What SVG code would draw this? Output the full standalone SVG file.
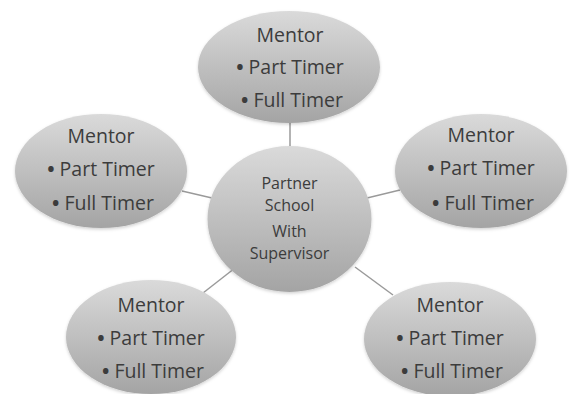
<svg xmlns="http://www.w3.org/2000/svg" width="574" height="394" viewBox="0 0 574 394">
<defs>
<linearGradient id="g" x1="0" y1="0" x2="0" y2="1">
<stop offset="0" stop-color="#dadada"/>
<stop offset="1" stop-color="#a4a4a4"/>
</linearGradient>
<filter id="sh" x="-10%" y="-10%" width="120%" height="125%">
<feDropShadow dx="0" dy="1.5" stdDeviation="1.5" flood-color="#000" flood-opacity="0.18"/>
</filter>
</defs>
<style>
.n{fill:url(#g);filter:url(#sh)}
.t{font-family:"Open Sans","Noto Sans",sans-serif;font-size:19.5px;fill:#3c3c3c;text-anchor:middle}
.c{font-family:"Open Sans","Noto Sans",sans-serif;font-size:16px;fill:#3c3c3c;text-anchor:middle}
.b{font-weight:bold}
.l{stroke:#9a9a9a;stroke-width:1.5;fill:none}
</style>
<rect width="574" height="394" fill="#fff"/>
<g id="connectors">
<line class="l" x1="290" y1="122" x2="290" y2="148"/>
<line class="l" x1="182" y1="191" x2="212" y2="198"/>
<line class="l" x1="367" y1="198" x2="400" y2="190"/>
<line class="l" x1="203" y1="293" x2="235" y2="268"/>
<line class="l" x1="355" y1="267" x2="393" y2="295"/>
</g>
<g id="center">
<ellipse class="n" cx="289.5" cy="219" rx="82" ry="73"/>
<text class="c" x="289.5" y="189">Partner</text>
<text class="c" x="289.5" y="211">School</text>
<text class="c" x="289.5" y="237">With</text>
<text class="c" x="289.5" y="259">Supervisor</text>
</g>
<g id="mentor-top">
<ellipse class="n" cx="289" cy="67" rx="91" ry="56"/>
<text class="t" x="290" y="42">Mentor</text>
<text class="t" x="290" y="74"><tspan class="b">•</tspan> Part Timer</text>
<text class="t" x="292" y="107"><tspan class="b">•</tspan> Full Timer</text>
</g>
<g id="mentor-left">
<ellipse class="n" cx="101" cy="171" rx="86" ry="57"/>
<text class="t" x="101" y="143">Mentor</text>
<text class="t" x="101" y="176"><tspan class="b">•</tspan> Part Timer</text>
<text class="t" x="103" y="210"><tspan class="b">•</tspan> Full Timer</text>
</g>
<g id="mentor-right">
<ellipse class="n" cx="481" cy="171" rx="86" ry="57"/>
<text class="t" x="481" y="142">Mentor</text>
<text class="t" x="481" y="175"><tspan class="b">•</tspan> Part Timer</text>
<text class="t" x="483" y="210"><tspan class="b">•</tspan> Full Timer</text>
</g>
<g id="mentor-bottom-left">
<ellipse class="n" cx="151" cy="337" rx="85" ry="57"/>
<text class="t" x="151" y="312">Mentor</text>
<text class="t" x="151" y="345"><tspan class="b">•</tspan> Part Timer</text>
<text class="t" x="153" y="378"><tspan class="b">•</tspan> Full Timer</text>
</g>
<g id="mentor-bottom-right">
<ellipse class="n" cx="450" cy="339" rx="86" ry="57"/>
<text class="t" x="450" y="312">Mentor</text>
<text class="t" x="450" y="345"><tspan class="b">•</tspan> Part Timer</text>
<text class="t" x="452" y="378"><tspan class="b">•</tspan> Full Timer</text>
</g>
</svg>
